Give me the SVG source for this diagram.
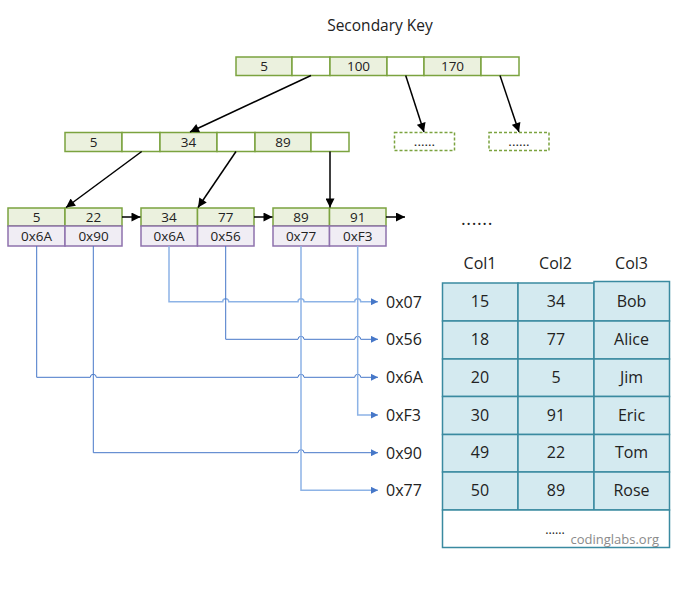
<svg xmlns="http://www.w3.org/2000/svg" width="683" height="592" viewBox="0 0 683 592">
<style>
text{font-family:"Open Sans","Noto Sans","DejaVu Sans",sans-serif;fill:#222;}
.k{fill:#ebf1de;stroke:#7ba33f;stroke-width:1.5;}
.e{fill:#ffffff;stroke:#7ba33f;stroke-width:1.5;}
.p{fill:#f0edf4;stroke:#8e72ad;stroke-width:1.5;}
.d{fill:#ffffff;stroke:#7ba33f;stroke-width:1.5;stroke-dasharray:3 2;}
.t{font-size:13.5px;text-anchor:middle;}
.c{fill:#d4eaf0;stroke:#3a8aa0;stroke-width:1.5;}
.ct{font-size:16px;text-anchor:middle;}
.lbl{font-size:16px;}
.blk{stroke:#000;stroke-width:1.5;fill:none;}
.bd{stroke:#4677c8;stroke-width:1;fill:none;}
.bl{stroke:#8db3e6;stroke-width:1.5;fill:none;}
</style>
<defs>
<marker id="ab" viewBox="0 0 10 10" refX="10" refY="5" markerWidth="11" markerHeight="9" markerUnits="userSpaceOnUse" orient="auto"><path d="M0,0 L10,5 L0,10 z" fill="#000"/></marker>
<marker id="au" viewBox="0 0 10 10" refX="10" refY="5" markerWidth="7" markerHeight="7" markerUnits="userSpaceOnUse" orient="auto"><path d="M0,0 L10,5 L0,10 z" fill="#4677c8"/></marker>
</defs>
<text x="380" y="31" font-size="15.5" text-anchor="middle">Secondary Key</text>
<g id="root">
<rect class="k" x="236" y="57" width="56" height="18.5"/>
<rect class="e" x="292" y="57" width="38" height="18.5"/>
<rect class="k" x="330" y="57" width="57" height="18.5"/>
<rect class="e" x="387" y="57" width="37" height="18.5"/>
<rect class="k" x="424" y="57" width="57" height="18.5"/>
<rect class="e" x="481" y="57" width="38" height="18.5"/>
<text class="t" x="264" y="71">5</text>
<text class="t" x="358.5" y="71">100</text>
<text class="t" x="452.5" y="71">170</text>
</g>
<g id="dash1"><rect class="d" x="394.5" y="132.5" width="60" height="18"/><text class="t" x="424.5" y="146" font-size="12">......</text></g>
<g id="dash2"><rect class="d" x="489" y="132.5" width="60" height="18"/><text class="t" x="519" y="146" font-size="12">......</text></g>
<g id="mid">
<rect class="k" x="65" y="132.5" width="57" height="19"/>
<rect class="e" x="122" y="132.5" width="38" height="19"/>
<rect class="k" x="160" y="132.5" width="57" height="19"/>
<rect class="e" x="217" y="132.5" width="38" height="19"/>
<rect class="k" x="255" y="132.5" width="56" height="19"/>
<rect class="e" x="311" y="132.5" width="38" height="19"/>
<text class="t" x="93.5" y="147">5</text>
<text class="t" x="188.5" y="147">34</text>
<text class="t" x="283" y="147">89</text>
</g>
<g id="leaf1">
<rect class="k" x="8" y="208" width="57" height="18"/>
<rect class="k" x="65" y="208" width="57" height="18"/>
<rect class="p" x="8" y="226" width="57" height="20"/>
<rect class="p" x="65" y="226" width="57" height="20"/>
<text class="t" x="36.5" y="222">5</text>
<text class="t" x="93.5" y="222">22</text>
<text class="t" x="36.5" y="241">0x6A</text>
<text class="t" x="93.5" y="241">0x90</text>
</g>
<g id="leaf2">
<rect class="k" x="141" y="208" width="56.5" height="18"/>
<rect class="k" x="197.5" y="208" width="56.5" height="18"/>
<rect class="p" x="141" y="226" width="56.5" height="20"/>
<rect class="p" x="197.5" y="226" width="56.5" height="20"/>
<text class="t" x="169" y="222">34</text>
<text class="t" x="225.7" y="222">77</text>
<text class="t" x="169" y="241">0x6A</text>
<text class="t" x="225.7" y="241">0x56</text>
</g>
<g id="leaf3">
<rect class="k" x="273" y="208" width="56.5" height="18"/>
<rect class="k" x="329.5" y="208" width="56.5" height="18"/>
<rect class="p" x="273" y="226" width="56.5" height="20"/>
<rect class="p" x="329.5" y="226" width="56.5" height="20"/>
<text class="t" x="301" y="222">89</text>
<text class="t" x="357.7" y="222">91</text>
<text class="t" x="301" y="241">0x77</text>
<text class="t" x="357.7" y="241">0xF3</text>
</g>
<text x="461" y="225" font-size="18" letter-spacing="0.6">......</text>
<g id="connectors">
<line class="blk" x1="311" y1="75.5" x2="190" y2="132" marker-end="url(#ab)"/>
<line class="blk" x1="405.7" y1="75.5" x2="424" y2="132" marker-end="url(#ab)"/>
<line class="blk" x1="500" y1="75.5" x2="519" y2="132" marker-end="url(#ab)"/>
<line class="blk" x1="141.7" y1="151.5" x2="66" y2="207.5" marker-end="url(#ab)"/>
<line class="blk" x1="236" y1="151.5" x2="198" y2="207.5" marker-end="url(#ab)"/>
<line class="blk" x1="330" y1="151.5" x2="330" y2="207.5" marker-end="url(#ab)"/>
<line class="blk" x1="122" y1="217" x2="140.5" y2="217" marker-end="url(#ab)"/>
<line class="blk" x1="254" y1="217" x2="272.5" y2="217" marker-end="url(#ab)"/>
<line class="blk" x1="386" y1="217" x2="405" y2="217" marker-end="url(#ab)"/>
<path class="bl" d="M169,246 V301.7 H222.7 A3,3 0 0 1 228.7,301.7 H298 A3,3 0 0 1 304,301.7 H354.7 A3,3 0 0 1 360.7,301.7 H378" marker-end="url(#au)"/>
<path class="bd" d="M225.7,246 V339.3 H298 A3,3 0 0 1 304,339.3 H354.7 A3,3 0 0 1 360.7,339.3 H378" marker-end="url(#au)"/>
<path class="bd" d="M36.7,246 V377.3 H90.3 A3,3 0 0 1 96.3,377.3 H298 A3,3 0 0 1 304,377.3 H354.7 A3,3 0 0 1 360.7,377.3 H378" marker-end="url(#au)"/>
<path class="bl" d="M357.7,246 V415 H378" marker-end="url(#au)"/>
<path class="bd" d="M93.3,246 V452.7 H298 A3,3 0 0 1 304,452.7 H378" marker-end="url(#au)"/>
<path class="bl" d="M301,246 V490.3 H378" marker-end="url(#au)"/>
</g>
<g id="labels">
<text class="lbl" x="386" y="307.5">0x07</text>
<text class="lbl" x="386" y="345">0x56</text>
<text class="lbl" x="386" y="383">0x6A</text>
<text class="lbl" x="386" y="420.5">0xF3</text>
<text class="lbl" x="386" y="458.5">0x90</text>
<text class="lbl" x="386" y="496">0x77</text>
</g>
<g id="table">
<text class="ct" x="480" y="269">Col1</text>
<text class="ct" x="555.5" y="269">Col2</text>
<text class="ct" x="631.5" y="269">Col3</text>
<rect class="c" x="442.5" y="283" width="75.5" height="38"/>
<rect class="c" x="518" y="283" width="76" height="38"/>
<rect class="c" x="594" y="281.5" width="75.5" height="39.5"/>
<rect class="c" x="442.5" y="321" width="75.5" height="38"/>
<rect class="c" x="518" y="321" width="76" height="38"/>
<rect class="c" x="594" y="321" width="75.5" height="38"/>
<rect class="c" x="442.5" y="359" width="75.5" height="37.5"/>
<rect class="c" x="518" y="359" width="76" height="37.5"/>
<rect class="c" x="594" y="359" width="75.5" height="37.5"/>
<rect class="c" x="442.5" y="396.5" width="75.5" height="38"/>
<rect class="c" x="518" y="396.5" width="76" height="38"/>
<rect class="c" x="594" y="396.5" width="75.5" height="38"/>
<rect class="c" x="442.5" y="434.5" width="75.5" height="37.5"/>
<rect class="c" x="518" y="434.5" width="76" height="37.5"/>
<rect class="c" x="594" y="434.5" width="75.5" height="37.5"/>
<rect class="c" x="442.5" y="472" width="75.5" height="38"/>
<rect class="c" x="518" y="472" width="76" height="38"/>
<rect class="c" x="594" y="472" width="75.5" height="38"/>
<rect x="442.5" y="510" width="227" height="37.5" fill="#fff" stroke="#3a8aa0" stroke-width="1.5"/>
<text class="ct" x="480" y="307">15</text><text class="ct" x="556" y="307">34</text><text class="ct" x="631.5" y="307">Bob</text>
<text class="ct" x="480" y="345">18</text><text class="ct" x="556" y="345">77</text><text class="ct" x="631.5" y="345">Alice</text>
<text class="ct" x="480" y="383">20</text><text class="ct" x="556" y="383">5</text><text class="ct" x="631.5" y="383">Jim</text>
<text class="ct" x="480" y="420.5">30</text><text class="ct" x="556" y="420.5">91</text><text class="ct" x="631.5" y="420.5">Eric</text>
<text class="ct" x="480" y="458">49</text><text class="ct" x="556" y="458">22</text><text class="ct" x="631.5" y="458">Tom</text>
<text class="ct" x="480" y="496">50</text><text class="ct" x="556" y="496">89</text><text class="ct" x="631.5" y="496">Rose</text>
<text x="555" y="533.5" font-size="12.5" text-anchor="middle">......</text>
<text x="659" y="543.5" font-size="13" text-anchor="end" style="fill:#8a8a8a">codinglabs.org</text>
</g>
</svg>
